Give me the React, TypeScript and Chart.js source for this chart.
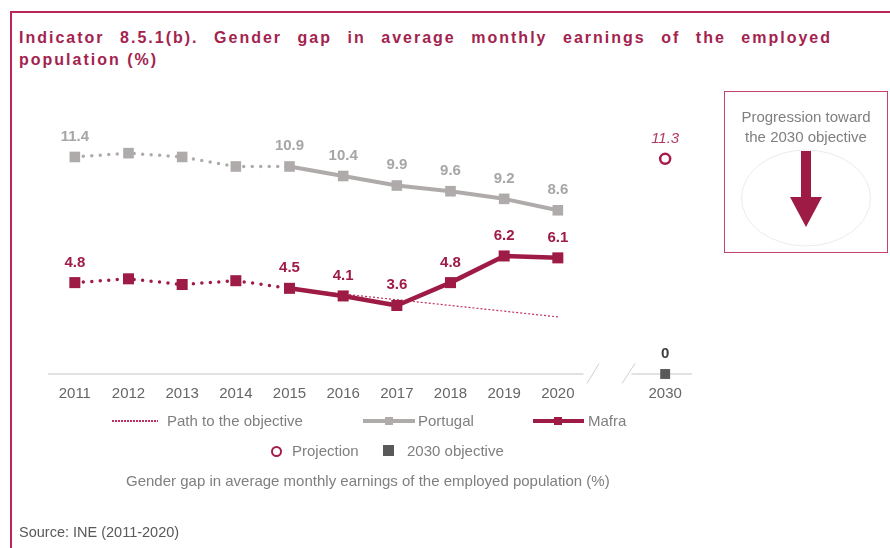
import React, { useEffect, useRef } from 'react';
import { Chart, registerables } from 'chart.js';

Chart.register(...registerables);

const FONT = '"Liberation Sans", Arial, Helvetica, sans-serif';

const categories = ['2011', '2012', '2013', '2014', '2015', '2016', '2017', '2018', '2019', '2020', '', '2030'];
const portugal = [11.4, 11.6, 11.4, 10.9, 10.9, 10.4, 9.9, 9.6, 9.2, 8.6, null, null];
const mafra = [4.8, 5.0, 4.7, 4.9, 4.5, 4.1, 3.6, 4.8, 6.2, 6.1, null, null];
const pathToObjective = [null, null, null, null, 4.5, 4.2, 3.9, 3.6, 3.3, 3.0, null, null];
const projection = [null, null, null, null, null, null, null, null, null, null, null, 11.3];
const objective2030 = [null, null, null, null, null, null, null, null, null, null, null, 0];
const labelledYears = ['2011', '2015', '2016', '2017', '2018', '2019', '2020', '2030'];
const lastDottedIndex = 4;
const gapIndex = 10;

const COLORS = {
  frame: '#b8265a',
  title: '#a3234f',
  portugal: '#afabab',
  portugalLabel: '#a6a6a6',
  mafra: '#9e1b46',
  path: '#c0305f',
  projection: '#a51d4a',
  objective: '#595959',
  text: '#7f7f7f',
};

const valueLabelPlugin = {
  id: 'valueLabels',
  afterDatasetsDraw(chart: any) {
    const ctx = chart.ctx;
    chart.data.datasets.forEach((ds: any, i: number) => {
      const cfg = ds.valueLabel;
      if (!cfg) return;
      const meta = chart.getDatasetMeta(i);
      meta.data.forEach((pt: any, j: number) => {
        const v = ds.data[j];
        if (v == null) return;
        if (!labelledYears.includes(categories[j])) return;
        ctx.save();
        ctx.font = cfg.font;
        ctx.fillStyle = cfg.color;
        ctx.textAlign = 'center';
        ctx.textBaseline = 'alphabetic';
        ctx.fillText(cfg.format(v), pt.x, pt.y - 21.5 + 5.4);
        ctx.restore();
      });
    });
  },
};

const brokenAxisPlugin = {
  id: 'brokenAxis',
  beforeDatasetsDraw(chart: any) {
    const { ctx, chartArea, scales } = chart;
    const y0 = scales.y.getPixelForValue(0);
    const g = scales.x.getPixelForValue(gapIndex);
    const seg = (x1: number, y1: number, x2: number, y2: number) => {
      ctx.beginPath();
      ctx.moveTo(x1, y1);
      ctx.lineTo(x2, y2);
      ctx.stroke();
    };
    ctx.save();
    ctx.strokeStyle = '#d9d9d9';
    ctx.lineWidth = 1.3;
    seg(chartArea.left, y0, g - 28, y0);
    seg(g + 20, y0, chartArea.right, y0);
    ctx.strokeStyle = '#cfcfcf';
    ctx.lineWidth = 1;
    seg(g - 24.5, y0 + 9.5, g - 12.5, y0 - 10.5);
    seg(g + 10.5, y0 + 9.5, g + 23.5, y0 - 10.5);
    ctx.restore();
  },
};

const dotted = (c: any) => (c.p1DataIndex <= lastDottedIndex ? [0, 8.5] : undefined);
const dottedWidth = (c: any) => (c.p1DataIndex <= lastDottedIndex ? 3.5 : undefined);

function ChartCanvas() {
  const ref = useRef<HTMLCanvasElement | null>(null);
  useEffect(() => {
    if (!ref.current) return;
    const chart = new Chart(ref.current, {
      type: 'line',
      data: {
        labels: categories,
        datasets: [
          {
            label: 'Projection',
            data: projection,
            showLine: false,
            pointStyle: 'circle',
            pointRadius: 5,
            pointBorderWidth: 2.5,
            pointBorderColor: COLORS.projection,
            pointBackgroundColor: '#ffffff',
            clip: false,
            order: 0,
            valueLabel: { font: `italic 15px ${FONT}`, color: '#b03a62', format: (v: number) => v.toFixed(1) },
          } as any,
          {
            label: '2030 objective',
            data: objective2030,
            showLine: false,
            pointStyle: 'rect',
            pointRadius: 7,
            pointBorderWidth: 0,
            pointBackgroundColor: COLORS.objective,
            clip: false,
            order: 0,
            valueLabel: { font: `bold 15px ${FONT}`, color: '#404040', format: (v: number) => String(v) },
          } as any,
          {
            label: 'Mafra',
            data: mafra,
            borderColor: COLORS.mafra,
            backgroundColor: COLORS.mafra,
            borderWidth: 4.5,
            borderCapStyle: 'round',
            borderJoinStyle: 'round',
            pointStyle: 'rect',
            pointRadius: 7.8,
            pointBorderWidth: 0,
            pointBackgroundColor: COLORS.mafra,
            segment: { borderDash: dotted, borderWidth: dottedWidth },
            clip: false,
            order: 1,
            valueLabel: { font: `bold 15px ${FONT}`, color: COLORS.mafra, format: (v: number) => v.toFixed(1) },
          } as any,
          {
            label: 'Portugal',
            data: portugal,
            borderColor: COLORS.portugal,
            backgroundColor: COLORS.portugal,
            borderWidth: 4,
            borderCapStyle: 'round',
            borderJoinStyle: 'round',
            pointStyle: 'rect',
            pointRadius: 7.5,
            pointBorderWidth: 0,
            pointBackgroundColor: COLORS.portugal,
            segment: { borderDash: dotted, borderWidth: dottedWidth },
            clip: false,
            order: 2,
            valueLabel: { font: `bold 15px ${FONT}`, color: COLORS.portugalLabel, format: (v: number) => v.toFixed(1) },
          } as any,
          {
            label: 'Path to the objective',
            data: pathToObjective,
            borderColor: COLORS.path,
            borderWidth: 1.2,
            borderDash: [2, 2],
            pointRadius: 0,
            clip: false,
            order: 3,
          } as any,
        ],
      },
      options: {
        responsive: true,
        maintainAspectRatio: false,
        animation: false,
        layout: { padding: { left: 48, right: 198, top: 126.5, bottom: 134 } },
        plugins: { legend: { display: false }, tooltip: { enabled: false } },
        scales: {
          x: {
            type: 'category',
            offset: true,
            grid: { display: false, drawTicks: false },
            border: { display: false },
            ticks: {
              color: '#666666',
              font: { family: FONT, size: 15 },
              padding: 11,
              autoSkip: false,
              maxRotation: 0,
            },
          },
          y: { display: false, min: 0, max: 13 },
        },
      },
      plugins: [brokenAxisPlugin, valueLabelPlugin],
    } as any);
    return () => chart.destroy();
  }, []);
  return (
    <div style={{ position: 'absolute', left: 0, top: 0, width: 890, height: 548 }}>
      <canvas ref={ref} />
    </div>
  );
}

const txt = (extra: React.CSSProperties): React.CSSProperties => ({
  position: 'absolute',
  fontFamily: FONT,
  fontSize: 15,
  lineHeight: '20px',
  color: COLORS.text,
  whiteSpace: 'nowrap',
  ...extra,
});

const titleStyle = (extra: React.CSSProperties): React.CSSProperties => ({
  position: 'absolute',
  left: 19,
  fontFamily: FONT,
  fontWeight: 'bold',
  fontSize: 16,
  lineHeight: '22px',
  letterSpacing: '2px',
  color: COLORS.title,
  whiteSpace: 'nowrap',
  ...extra,
});

export default function App() {
  return (
    <div style={{ position: 'absolute', left: 0, top: 0, width: 890, height: 548, overflow: 'hidden', background: '#ffffff' }}>
      {/* frame */}
      <div style={{ position: 'absolute', left: 10, top: 11, width: 880, height: 2, background: COLORS.frame }} />
      <div style={{ position: 'absolute', left: 10, top: 11, width: 2, height: 537, background: COLORS.frame }} />
      {/* title */}
      <div style={titleStyle({ top: 27, width: 813, textAlign: 'justify', textAlignLast: 'justify' } as React.CSSProperties)}>
        Indicator 8.5.1(b). Gender gap in average monthly earnings of the employed
      </div>
      <div style={titleStyle({ top: 49 })}>population (%)</div>

      <ChartCanvas />

      {/* progression box */}
      <div style={{ position: 'absolute', left: 724, top: 91, width: 164, height: 162, boxSizing: 'border-box', border: '1.5px solid #c4436c' }} />
      <svg width={890} height={548} style={{ position: 'absolute', left: 0, top: 0, pointerEvents: 'none' }}>
        <ellipse cx={806} cy={198} rx={64.5} ry={48} fill="none" stroke="#e6e6e6" strokeWidth={0.8} />
        <rect x={801} y={151} width={10} height={47} fill={COLORS.mafra} />
        <polygon points="790,197 822,197 806,227" fill={COLORS.mafra} />
      </svg>
      <div style={txt({ left: 726, width: 160, top: 106.5, textAlign: 'center', whiteSpace: 'normal' })}>
        Progression toward
        <br />
        the 2030 objective
      </div>

      {/* legend row 1 */}
      <div
        style={{
          position: 'absolute',
          left: 112,
          top: 420.2,
          width: 46,
          height: 1.5,
          background: `repeating-linear-gradient(to right, ${COLORS.path} 0 1.5px, transparent 1.5px 3px)`,
        }}
      />
      <div style={txt({ left: 167, top: 411 })}>Path to the objective</div>
      <div style={{ position: 'absolute', left: 363, top: 419, width: 52, height: 4, background: COLORS.portugal }} />
      <div style={{ position: 'absolute', left: 385, top: 417, width: 8, height: 8, background: COLORS.portugal }} />
      <div style={txt({ left: 418, top: 411 })}>Portugal</div>
      <div style={{ position: 'absolute', left: 533, top: 418.8, width: 51, height: 4.5, background: COLORS.mafra }} />
      <div style={{ position: 'absolute', left: 554, top: 417, width: 8, height: 8, background: COLORS.mafra }} />
      <div style={txt({ left: 588, top: 411 })}>Mafra</div>

      {/* legend row 2 */}
      <div
        style={{
          position: 'absolute',
          left: 270.5,
          top: 445.5,
          width: 11,
          height: 11,
          boxSizing: 'border-box',
          border: `2.5px solid ${COLORS.projection}`,
          borderRadius: '50%',
        }}
      />
      <div style={txt({ left: 292, top: 441 })}>Projection</div>
      <div style={{ position: 'absolute', left: 383, top: 444.5, width: 11, height: 11, background: COLORS.objective }} />
      <div style={txt({ left: 407, top: 441 })}>2030 objective</div>

      {/* caption */}
      <div style={txt({ left: 126, top: 471 })}>Gender gap in average monthly earnings of the employed population (%)</div>

      {/* source */}
      <div style={txt({ left: 19, top: 522, fontSize: 14.5, color: '#595959' })}>Source: INE (2011-2020)</div>
    </div>
  );
}
